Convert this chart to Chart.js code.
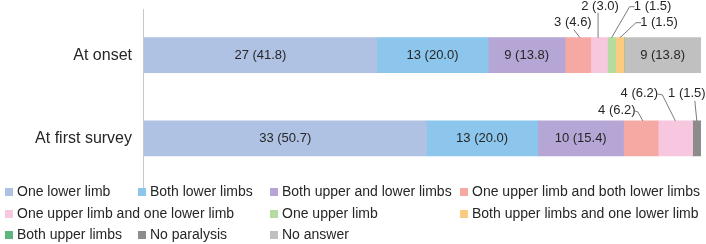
<!DOCTYPE html>
<html>
<head>
<meta charset="utf-8">
<script src="https://cdn.jsdelivr.net/npm/chart.js@4.4.0/dist/chart.umd.min.js"></script>
<style>
  html, body { margin: 0; padding: 0; background: #fff; }
  #wrap { width: 706px; height: 244px; position: relative; }
</style>
</head>
<body>
<div id="wrap"><canvas id="grafico" width="706" height="244"></canvas></div>
<script>
// Dados
const categorias = ['At onset', 'At first survey'];
const tipos = [
  'One lower limb', 'Both lower limbs', 'Both upper and lower limbs',
  'One upper limb and both lower limbs', 'One upper limb and one lower limb',
  'One upper limb', 'Both upper limbs and one lower limb',
  'Both upper limbs', 'No paralysis', 'No answer'
];
const contagemOnset  = [27, 13, 9, 3, 2, 1, 1, 0, 0, 9];
const pctOnset       = [41.8, 20.0, 13.8, 4.6, 3.0, 1.5, 1.5, 0, 0, 13.8];
const contagemSurvey = [33, 13, 10, 4, 4, 0, 0, 0, 1, 0];
const pctSurvey      = [50.7, 20.0, 15.4, 6.2, 6.2, 0, 0, 0, 1.5, 0];

const cores = ['#B0C2E4', '#8CC6EC', '#B6A6D5', '#F6A9A3', '#F7C6DF',
               '#B5DBA0', '#FCCB80', '#5EB67E', '#8E8B8C', '#C0C0C0'];

// Rótulos externos (deslocamentos em px a partir do topo-centro do segmento)
const chamadas = {
  '3-0': { dx: -5, dy: -15, linha: [[-4, -8], [2, 0]] },
  '4-0': { dx: 1, dy: -31, linha: [[-1, -25], [-1, 0]] },
  '5-0': { dx: 41, dy: -31, linha: [[23, -31], [18, -31], [0, 0]] },
  '6-0': { dx: 39, dy: -15, linha: [[21, -15], [16, -15], [0, 0]] },
  '3-1': { dx: -24, dy: -10, linha: [[-6, -10], [-3, -9], [2, 0]] },
  '4-1': { dx: -36, dy: -27, linha: [[-18, -27], [-13, -26], [0, 0]] },
  '8-1': { dx: -10, dy: -27, linha: [[-2, -20], [0, 0]] }
};

// Posições da legenda
const legCols = [5, 138, 270, 460];
const legRows = [192, 214, 235];
const legSlots = [[0,0],[1,0],[2,0],[3,0],[0,1],[2,1],[3,1],[0,2],[1,2],[2,2]];

const datasets = tipos.map((t, i) => ({
  label: t,
  data: [pctOnset[i], pctSurvey[i]],
  contagem: [contagemOnset[i], contagemSurvey[i]],
  backgroundColor: cores[i],
  borderWidth: 0,
  barThickness: 35
}));

const pluginRotulos = {
  id: 'rotulos',
  beforeDatasetsDraw(chart) {
    // linha do eixo vertical (estende além da área)
    const ctx = chart.ctx;
    ctx.save();
    ctx.strokeStyle = '#C8C8C8';
    ctx.lineWidth = 1;
    ctx.beginPath();
    ctx.moveTo(chart.chartArea.left - 0.5, 9);
    ctx.lineTo(chart.chartArea.left - 0.5, 195);
    ctx.stroke();
    ctx.restore();
  },
  afterDatasetsDraw(chart) {
    const ctx = chart.ctx;
    ctx.save();
    ctx.font = '13px "Liberation Sans", Arial, sans-serif';
    ctx.fillStyle = '#262626';
    ctx.textAlign = 'center';
    ctx.textBaseline = 'middle';
    chart.data.datasets.forEach((ds, di) => {
      const meta = chart.getDatasetMeta(di);
      meta.data.forEach((bar, i) => {
        const v = ds.data[i];
        if (!v) return;
        const txt = ds.contagem[i] + ' (' + v.toFixed(1) + ')';
        const left = Math.min(bar.x, bar.base), right = Math.max(bar.x, bar.base);
        const cx = (left + right) / 2;
        const top = bar.y - bar.height / 2;
        const c = chamadas[di + '-' + i];
        if (c) {
          ctx.fillText(txt, cx + c.dx, top + c.dy);
          ctx.strokeStyle = '#595959';
          ctx.lineWidth = 0.8;
          ctx.beginPath();
          c.linha.forEach((p, k) => {
            if (k === 0) ctx.moveTo(cx + p[0], top + p[1]);
            else ctx.lineTo(cx + p[0], top + p[1]);
          });
          ctx.stroke();
        } else {
          ctx.fillText(txt, cx, bar.y);
        }
      });
    });
    ctx.restore();
  },
  afterDraw(chart) {
    const ctx = chart.ctx;
    ctx.save();
    ctx.font = '14px "Liberation Sans", Arial, sans-serif';
    ctx.textBaseline = 'middle';
    ctx.textAlign = 'left';
    chart.data.datasets.forEach((ds, di) => {
      const s = legSlots[di];
      const x = legCols[s[0]], y = legRows[s[1]];
      ctx.fillStyle = ds.backgroundColor;
      ctx.fillRect(x, y - 4, 8, 8);
      ctx.fillStyle = '#262626';
      ctx.fillText(ds.label, x + 12, y);
    });
    ctx.restore();
  }
};

new Chart(document.getElementById('grafico').getContext('2d'), {
  type: 'bar',
  data: { labels: categorias, datasets: datasets },
  options: {
    indexAxis: 'y',
    responsive: false,
    animation: false,
    layout: { padding: { top: 1, bottom: 64, right: 5, left: 0 } },
    plugins: { legend: { display: false }, tooltip: { enabled: false } },
    scales: {
      x: { stacked: true, min: 0, max: 100, display: false },
      y: {
        stacked: true,
        grid: { display: false },
        border: { display: false },
        ticks: {
          color: '#262626',
          padding: 4,
          font: { size: 16, family: '"Liberation Sans", Arial, sans-serif' }
        },
        afterFit(scale) { scale.width = 144; }
      }
    }
  },
  plugins: [pluginRotulos]
});
</script>
</body>
</html>
